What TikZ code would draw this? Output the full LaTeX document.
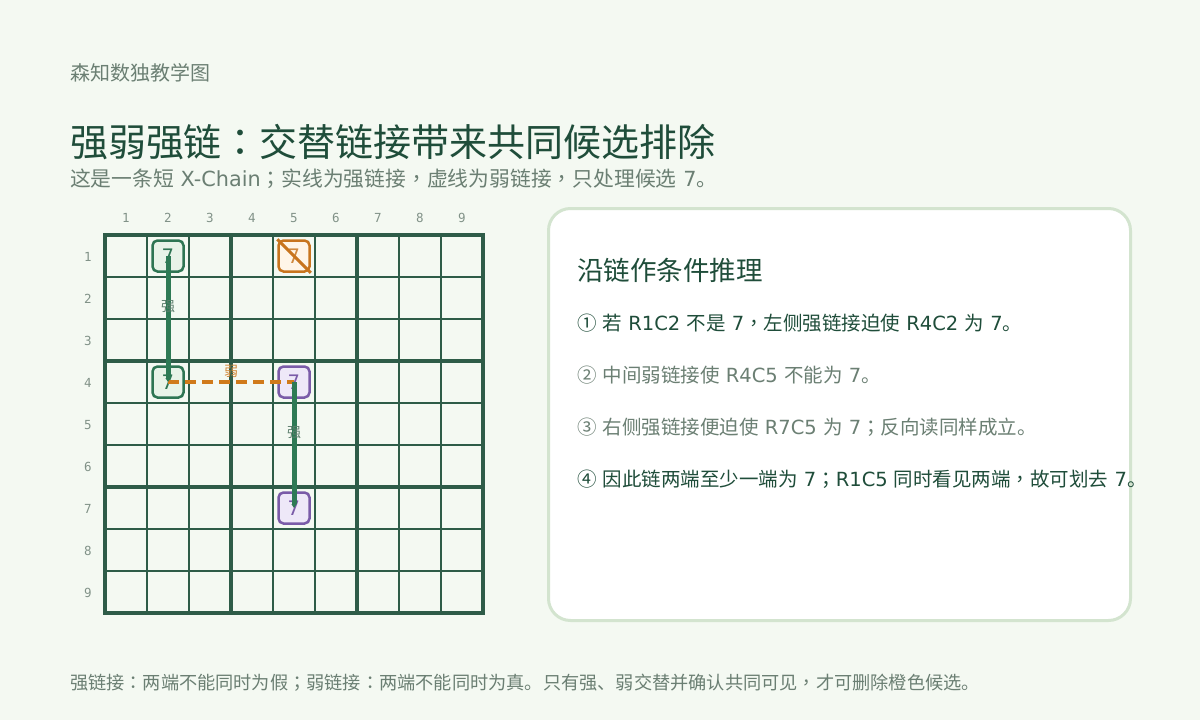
\documentclass[tikz,border=0pt]{standalone}
\usepackage{fontspec}
\setmainfont{Noto Sans CJK SC}
\newfontfamily\monofont{DejaVu Sans Mono}
\newfontfamily\latfont{DejaVu Sans}
\newfontfamily\tcfont{Noto Sans CJK TC}
\newcommand\lt[1]{{\latfont #1}}
\newcommand\pc[1]{{\tcfont #1}}
\usetikzlibrary{arrows.meta}
\definecolor{bg}{HTML}{F4F9F2}
\definecolor{gridc}{HTML}{2E5C48}
\definecolor{ink}{HTML}{1F4D3A}
\definecolor{muted}{HTML}{6B7F73}
\definecolor{greenB}{HTML}{2E7553}
\definecolor{greenF}{HTML}{E8F3E8}
\definecolor{orangeB}{HTML}{C8741E}
\definecolor{orangeF}{HTML}{FFF5E8}
\definecolor{purpleB}{HTML}{7A5BA8}
\definecolor{purpleF}{HTML}{EEE8F8}
\definecolor{strongC}{HTML}{2E7A55}
\definecolor{weakC}{HTML}{D07A1A}
\definecolor{panelB}{HTML}{D3E4CF}
\definecolor{lblS}{HTML}{5E7F6E}
\definecolor{lblW}{HTML}{D38A3C}
\tikzset{
  txt/.style={anchor=base west, inner sep=0, outer sep=0},
  axislbl/.style={font=\monofont\fontsize{12.5}{12.5}\selectfont, text=muted!85, inner sep=0},
  cand/.style={draw, line width=2.5pt, rounded corners=5pt, minimum size=31pt, inner sep=0,
    font=\monofont\fontsize{20}{20}\selectfont},
  candG/.style={cand, draw=greenB, fill=greenF, text=greenB},
  candO/.style={cand, draw=orangeB, fill=orangeF, text=orangeB!85},
  candP/.style={cand, draw=purpleB, fill=purpleF, text=purpleB},
  stronglink/.style={draw=strongC, line width=5pt, -{Triangle[length=4pt,width=5pt]}},
  weaklink/.style={draw=weakC, line width=4pt, dash pattern=on 10.5pt off 6.5pt},
  linklbl/.style={font=\fontsize{14}{14}\selectfont, inner sep=0},
  panel/.style={draw=panelB, fill=white, line width=3pt, rounded corners=22pt}
}
\begin{document}
\begin{tikzpicture}[x=1pt,y=-1pt]
\fill[bg] (0,0) rectangle (1200,720);
\useasboundingbox (0,0) rectangle (1200,720);

% header texts
\node[txt, text=muted, font=\fontsize{20}{20}\selectfont] (brand) at (70,80) {森知数独教学图};
\node[txt, text=ink, font=\fontsize{38}{38}\selectfont] (title) at (70,156) {强弱强链\pc{：}交替链接带来共同候选排除};
\node[txt, text=muted, font=\fontsize{20.8}{20.8}\selectfont] (subtitle) at (70,186) {这是一条短\lt{ X-Chain}\pc{；}实线为强链接\pc{，}虚线为弱链接\pc{，}只处理候选\lt{ 7}。};

% grid
\foreach \i in {1,2,4,5,7,8} {
  \draw[gridc, line width=1.2pt] (105+42*\i,235) -- (105+42*\i,613);
  \draw[gridc, line width=1.2pt] (105,235+42*\i) -- (483,235+42*\i);
}
\foreach \i in {3,6} {
  \draw[gridc, line width=4pt] (105+42*\i,235) -- (105+42*\i,613);
  \draw[gridc, line width=4pt] (105,235+42*\i) -- (483,235+42*\i);
}
\draw[gridc, line width=4pt] (105,235) rectangle (483,613);

% axis labels
\foreach \i in {1,...,9} {
  \node[axislbl] (col\i) at (84+42*\i,218) {\i};
  \node[axislbl] (row\i) at (88,215+42*\i) {\i};
}

% candidates
\node[candG] (r1c2) at (168,256) {7};
\node[candG] (r4c2) at (168,382) {7};
\node[candO] (r1c5) at (294,256) {7};
\node[candP] (r4c5) at (294,382) {7};
\node[candP] (r7c5) at (294,508) {7};
\draw[orangeB, line width=3pt] (r1c5.north west) -- (r1c5.south east);

% links
\draw[weaklink] (r4c2.center) -- (r4c5.center);
\draw[stronglink] (r1c2.center) -- (r4c2.center);
\draw[stronglink] (r4c5.center) -- (r7c5.center);
\node[linklbl, text=lblS] (s1) at (168,307) {强};
\node[linklbl, text=lblW] (w1) at (231,371) {弱};
\node[linklbl, text=lblS] (s2) at (294,433) {强};

% panel
\node[panel, minimum width=582pt, minimum height=412pt, anchor=north west] (panelbox) at (547,207) {};
\node[txt, text=ink, font=\fontsize{26.5}{26.5}\selectfont] (ph) at (577,280) {沿链作条件推理};
\node[txt, text=ink, font=\fontsize{19.5}{19.5}\selectfont] (p1) at (577,330) {①\lt{ }若\lt{ R1C2 }不是\lt{ 7}\pc{，}左侧强链接迫使\lt{ R4C2 }为\lt{ 7}。};
\node[txt, text=muted, font=\fontsize{19.5}{19.5}\selectfont] (p2) at (577,382) {②\lt{ }中间弱链接使\lt{ R4C5 }不能为\lt{ 7}。};
\node[txt, text=muted, font=\fontsize{19.5}{19.5}\selectfont] (p3) at (577,434) {③\lt{ }右侧强链接便迫使\lt{ R7C5 }为\lt{ 7}\pc{；}反向读同样成立。};
\node[txt, text=ink, font=\fontsize{19.5}{19.5}\selectfont] (p4) at (577,486) {④\lt{ }因此链两端至少一端为\lt{ 7}\pc{；}\lt{R1C5 }同时看见两端\pc{，}故可划去\lt{ 7}。};

% footer
\node[txt, text=muted, font=\fontsize{18.2}{18.2}\selectfont] (footer) at (70,689) {强链接\pc{：}两端不能同时为假\pc{；}弱链接\pc{：}两端不能同时为真。只有强、弱交替并确认共同可见\pc{，}才可删除橙色候选。};
\end{tikzpicture}
\end{document}
